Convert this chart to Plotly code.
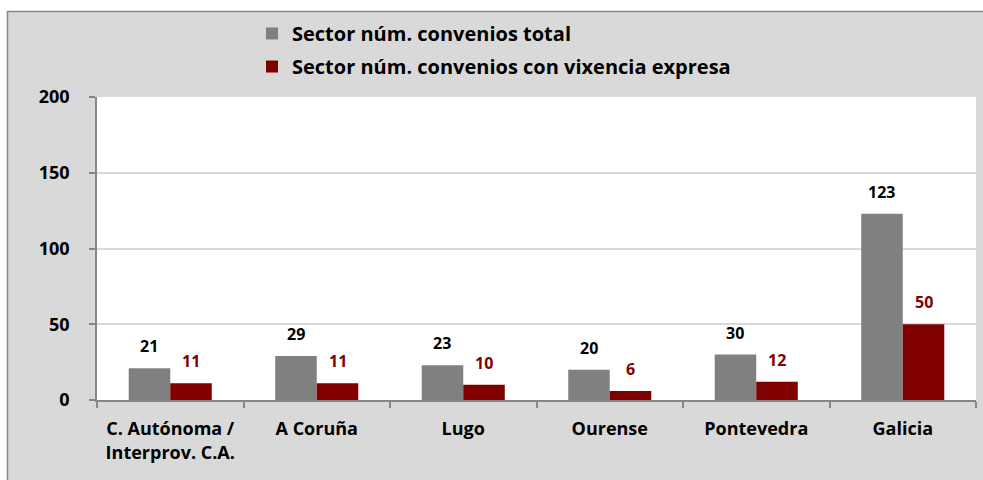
import plotly.graph_objects as go

categories = ["C. Autónoma /<br>Interprov. C.A.", "A Coruña", "Lugo", "Ourense", "Pontevedra", "Galicia"]
total_values = [21, 29, 23, 20, 30, 123]
vixencia_values = [11, 11, 10, 6, 12, 50]
series_names = ["Sector núm. convenios total", "Sector núm. convenios con vixencia expresa"]
y_ticks = [0, 50, 100, 150, 200]

W, H = 983, 480
ML, MT = 97, 97
PLOT_R, PLOT_B = 976, 400
MR, MB = W - PLOT_R, H - PLOT_B
PW, PH = W - ML - MR, H - MT - MB

def px_x(p):
    return (p - ML) / PW

def px_y(p):
    return (H - MB - p) / PH

FONT = "Open Sans"
GRAY = "#808080"
RED = "#800000"
AXIS = "#868686"

fig = go.Figure()
fig.add_trace(go.Bar(x=categories, y=total_values, name=series_names[0],
                     marker=dict(color=GRAY, line=dict(width=0)), legendgroup="a"))
fig.add_trace(go.Bar(x=categories, y=vixencia_values, name=series_names[1],
                     marker=dict(color=RED, line=dict(width=0)), legendgroup="b"))

cat_w = PW / len(categories)
bargap = 0.433
bar_w = cat_w * (1 - bargap) / 2

annotations = []
for c, v in zip(categories, total_values):
    annotations.append(dict(x=c, y=v, xref="x", yref="y", text=str(v), showarrow=False,
                            xshift=-bar_w / 2, yshift=22, yanchor="middle",
                            font=dict(family=FONT, size=16, color="black", weight="bold")))
for c, v in zip(categories, vixencia_values):
    annotations.append(dict(x=c, y=v, xref="x", yref="y", text=str(v), showarrow=False,
                            xshift=bar_w / 2, yshift=22, yanchor="middle",
                            font=dict(family=FONT, size=16, color=RED, weight="bold")))

shapes = [
    # white area outside the chart frame (left strip and top strip)
    dict(type="rect", xref="paper", yref="paper", x0=px_x(-2), x1=px_x(7), y0=px_y(H + 2), y1=px_y(-2),
         fillcolor="white", line=dict(width=0), layer="above"),
    dict(type="rect", xref="paper", yref="paper", x0=px_x(-2), x1=px_x(W + 2), y0=px_y(11), y1=px_y(-2),
         fillcolor="white", line=dict(width=0), layer="above"),
    # frame border
    dict(type="line", xref="paper", yref="paper", x0=px_x(7.5), x1=px_x(7.5), y0=px_y(H + 2), y1=px_y(11),
         line=dict(color=AXIS, width=1.5)),
    dict(type="line", xref="paper", yref="paper", x0=px_x(7), x1=px_x(W + 2), y0=px_y(11.5), y1=px_y(11.5),
         line=dict(color=AXIS, width=1.5)),
]

fig.update_layout(
    width=W, height=H,
    margin=dict(l=ML, r=MR, t=MT, b=MB, pad=0, autoexpand=False),
    paper_bgcolor="#d9d9d9",
    plot_bgcolor="white",
    barmode="group",
    bargap=bargap,
    bargroupgap=0,
    font=dict(family=FONT, size=18, color="black", weight="bold"),
    legend=dict(x=px_x(252), y=px_y(14), xanchor="left", yanchor="top",
                orientation="v", bgcolor="rgba(0,0,0,0)", traceorder="grouped",
                tracegroupgap=4, font=dict(family=FONT, size=20, weight="bold")),
    annotations=annotations,
    shapes=shapes,
    showlegend=True,
)

fig.update_yaxes(range=[0, 200], tickvals=y_ticks, ticktext=[str(t) for t in y_ticks],
                 showgrid=True, gridcolor="#d9d9d9", gridwidth=1.5,
                 showline=True, linecolor=AXIS, linewidth=1.5,
                 ticks="outside", ticklen=6, tickcolor=AXIS, tickwidth=1.5,
                 ticklabelstandoff=16, zeroline=False, automargin=False,
                 tickfont=dict(family=FONT, size=18, color="black", weight="bold"))
fig.update_xaxes(showline=True, linecolor=AXIS, linewidth=1.5,
                 ticks="outside", ticklen=6, tickcolor=AXIS, tickwidth=1.5,
                 tickson="boundaries", showgrid=False, automargin=False,
                 ticklabelstandoff=12,
                 tickfont=dict(family=FONT, size=18, color="black", weight="bold"))

fig.write_html("out.html",
               config={"displayModeBar": False},
               post_script="document.body.style.margin='0';document.body.style.overflow='hidden';")
